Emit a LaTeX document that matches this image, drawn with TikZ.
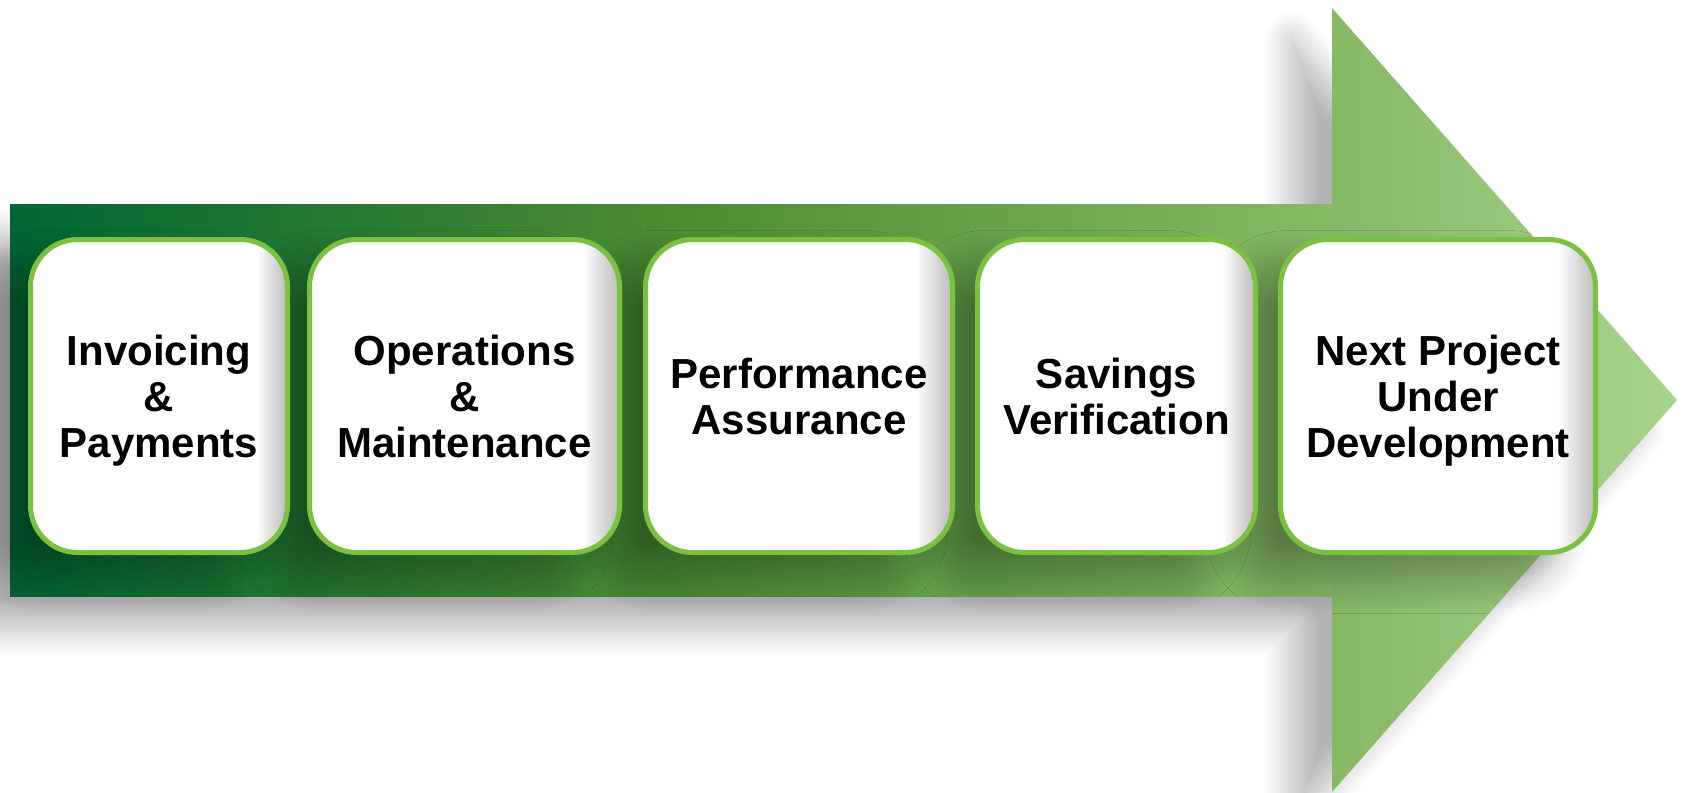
\documentclass[tikz,border=0pt]{standalone}
\usepackage{fontspec}
\setmainfont{Liberation Sans}
\definecolor{shaftdark}{RGB}{0, 102, 51}
\definecolor{shaftmid}{RGB}{76, 140, 50}
\definecolor{shaftlight}{RGB}{136, 186, 102}
\definecolor{headleft}{RGB}{134, 184, 101}
\definecolor{headright}{RGB}{168, 212, 140}
\definecolor{stagerim}{RGB}{122, 193, 66}
\usepackage{tikz}
\usetikzlibrary{shadows.blur, positioning}
\pgfdeclarehorizontalshading{stagefill}{100bp}{color(0bp)=(white); color(69bp)=(white);
  color(75bp)=(black!27); color(100bp)=(black!27)}

\tikzset{
  arrowshadow/.style={blur shadow={shadow xshift=-4mm, shadow yshift=-3.2mm,
      shadow blur radius=2.8mm, shadow blur steps=16, shadow opacity=30}},
  stageshadow/.style={rounded corners=4.7mm, blur shadow={shadow xshift=-4mm,
      shadow yshift=-2.6mm, shadow blur radius=3.5mm, shadow blur steps=20,
      shadow opacity=32}},
  stage/.style={draw=stagerim, line width=0.5mm, shade, shading=stagefill,
    rounded corners=4.7mm, minimum height=31.3mm, inner sep=0pt, align=center,
    text depth=0pt, font=\fontsize{11.95}{13.1}\selectfont\bfseries},
}

\begin{document}
\begin{tikzpicture}[x=0.1mm, y=-0.1mm]
  \useasboundingbox (0, 0) rectangle (1685, 792);

  % The big arrow, shadow first
  \fill[white, arrowshadow] (10, 204) -- (1332, 204) -- (1332, 8) -- (1677, 400)
    -- (1332, 792) -- (1332, 596) -- (10, 596) -- cycle;
  \shade[left color=shaftdark, right color=shaftlight, middle color=shaftmid]
    (10, 204) rectangle (1332, 596);
  \shade[left color=headleft, right color=headright]
    (1332, 8) -- (1677, 400) -- (1332, 792) -- cycle;

  % Shadows of the stages go below all of them
  \foreach \cx/\w in {159/257, 464.5/310, 799/307, 1116.5/278, 1438/315}
    \path[stageshadow] ({\cx-\w/2}, 239.5) rectangle ({\cx+\w/2}, 552.5);

  % The five stages
  \node[stage, minimum width=25.7mm] (invoice) at (159, 396) {Invoicing\\\&\\Payments};
  \node[stage, minimum width=31mm] (operate) at (464.5, 396) {Operations\\\&\\Maintenance};
  \node[stage, minimum width=30.7mm] (assure) at (799, 396) {Performance\\Assurance};
  \node[stage, minimum width=27.8mm] (verify) at (1116.5, 396) {Savings\\Verification};
  \node[stage, minimum width=31.5mm] (nextproj) at (1438, 396) {Next Project\\Under\\Development};
\end{tikzpicture}
\end{document}
